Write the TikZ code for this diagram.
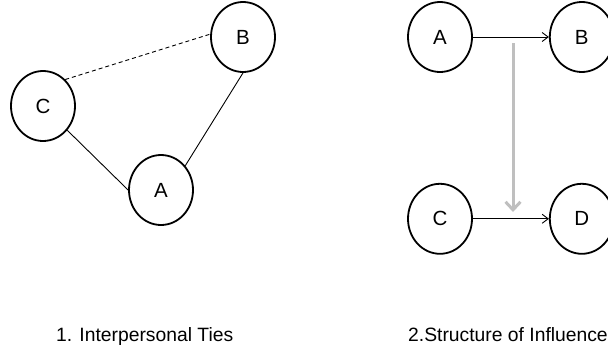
\documentclass[tikz,border=0pt]{standalone}
\usepackage{fontspec}
\setmainfont{Liberation Sans}
\usetikzlibrary{positioning,arrows.meta,shapes.geometric}

\begin{document}
\begin{tikzpicture}[
  x=1pt, y=-1pt,
  >={Straight Barb[length=6pt,width=9pt]},
  actor/.style={ellipse, draw=black, line width=1.8pt, minimum width=64pt, minimum height=70pt, inner sep=0pt, font=\fontsize{20.5}{24}\selectfont},
  tie/.style={line width=0.9pt},
  infl/.style={line width=3pt, draw=black!25, -{Straight Barb[length=8pt,width=15pt,line width=3pt]}},
  caption/.style={font=\fontsize{19.3}{22}\selectfont, inner sep=0pt},
  node distance=110pt and 76pt
]
\useasboundingbox (0,0) rectangle (608,351);

% 1. interpersonal ties
\node[actor] (ta) at (161,190) {A};
\node[actor] (tb) at (243,37) {B};
\node[actor] (tc) at (43,106) {C};

\draw[tie, dash pattern=on 4pt off 3pt] (tc.50) -- (tb.175);
\draw[tie] (tc.-45) -- (ta.180);
\draw[tie] (ta.45) -- (tb.-90);

% 2. structure of influence
\node[actor] (sa) at (440,37) {A};
\node[actor, right=of sa] (sb) {B};
\node[actor, below=of sa] (sc) {C};
\node[actor, right=of sc] (sd) {D};

\draw[tie, ->] (sa) -- (sb);
\draw[tie, ->] (sc) -- (sd);

\coordinate (itop) at (513,43);
\coordinate (ibot) at (513,212);
\draw[infl] (itop) -- (ibot);

% captions
\node[caption, anchor=base west] (cap1) at (56,341) {1. Interpersonal Ties};
\node[caption, anchor=base west] (cap2) at (408,341) {2.Structure of Influence};

\end{tikzpicture}
\end{document}
